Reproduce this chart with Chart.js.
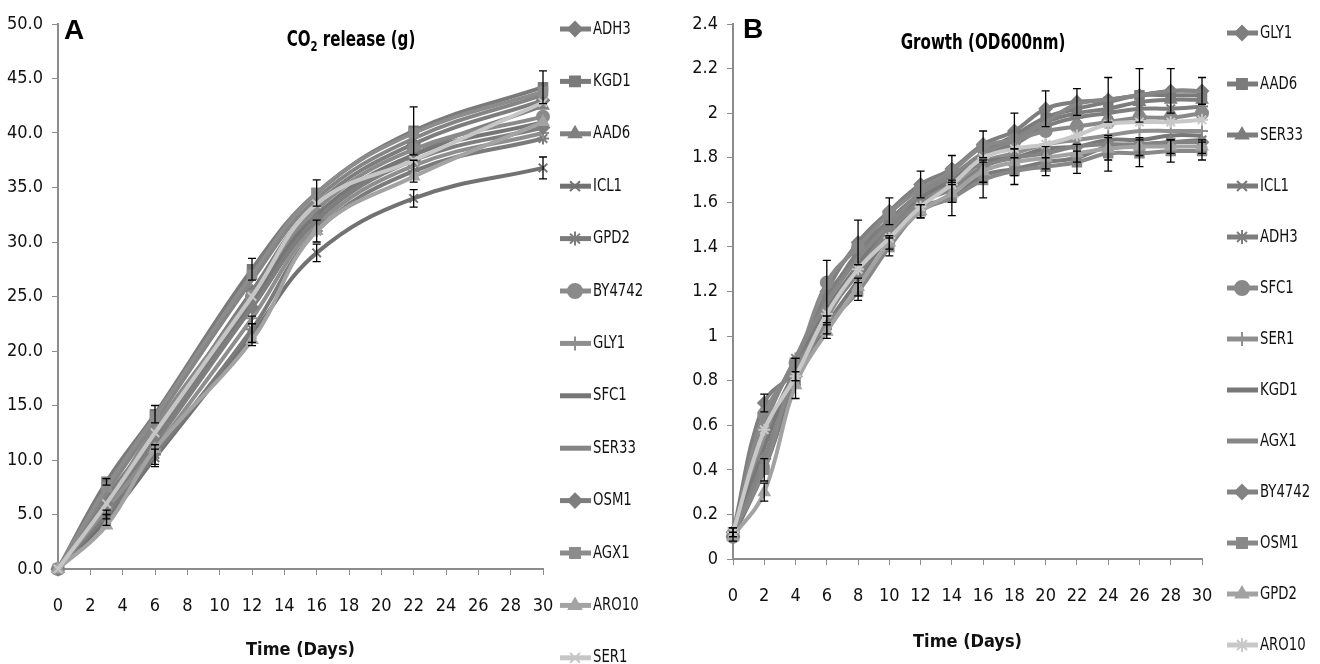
<!DOCTYPE html>
<html>
<head>
<meta charset="utf-8">
<script src="https://cdn.jsdelivr.net/npm/chart.js@4.4.0/dist/chart.umd.min.js"></script>
<style>
  html, body { margin: 0; padding: 0; background: #fff; }
  #wrap { position: relative; width: 1320px; height: 664px; overflow: hidden; }
  .panel { position: absolute; top: 0; width: 660px; height: 664px; }
  #panelA { left: 0; }
  #panelB { left: 660px; }
</style>
</head>
<body>
<div id="wrap">
  <div class="panel" id="panelA"><canvas id="chartA" width="660" height="664"></canvas></div>
  <div class="panel" id="panelB"><canvas id="chartB" width="660" height="664"></canvas></div>
</div>
<script>
const FONT = "'Liberation Sans Narrow', 'DejaVu Sans Condensed', 'Arial Narrow', sans-serif";

// ---- panel A : CO2 release (g) ----
const daysA = [0, 3, 6, 12, 16, 22, 30];
const strainsA = ['ADH3', 'KGD1', 'AAD6', 'ICL1', 'GPD2', 'BY4742', 'GLY1', 'SFC1', 'SER33', 'OSM1', 'AGX1', 'ARO10', 'SER1'];
const co2ADH3   = [0, 6.5, 12.5, 25.5, 33.5, 39.0, 43.0];
const co2KGD1   = [0, 8.0, 14.2, 27.5, 34.5, 40.2, 44.2];
const co2AAD6   = [0, 5.5, 11.5, 24.0, 32.0, 38.0, 42.5];
const co2ICL1   = [0, 4.5, 10.2, 21.5, 29.0, 34.0, 36.8];
const co2GPD2   = [0, 5.0, 10.5, 22.0, 31.0, 36.5, 39.5];
const co2BY4742 = [0, 6.0, 13.0, 25.0, 33.0, 38.5, 41.5];
const co2GLY1   = [0, 5.5, 11.0, 23.0, 31.5, 37.0, 40.0];
const co2SFC1   = [0, 6.0, 12.0, 24.5, 32.5, 38.0, 41.0];
const co2SER33  = [0, 7.0, 13.5, 26.5, 34.0, 39.5, 43.5];
const co2OSM1   = [0, 6.0, 12.0, 24.0, 32.0, 37.5, 40.5];
const co2AGX1   = [0, 7.5, 14.0, 27.0, 34.5, 40.0, 43.8];
const co2ARO10  = [0, 4.0, 11.0, 21.0, 31.0, 36.0, 41.0];
const co2SER1   = [0, 6.0, 12.5, 25.0, 33.5, 37.5, 42.8];
const co2KGD1Err = [0, 0.3, 0.8, 1.0, 1.2, 2.2, 1.5];
const co2ICL1Err = [0, 0.5, 0.8, 1.0, 0.8, 0.8, 1.0];
const co2GPD2Err = [0, 0.4, 0.9, 1.2, 1.0, 1.0, 0];

// ---- panel B : growth (OD600nm) ----
const daysB = [0, 2, 4, 6, 8, 10, 12, 14, 16, 18, 20, 22, 24, 26, 28, 30];
const strainsB = ['GLY1', 'AAD6', 'SER33', 'ICL1', 'ADH3', 'SFC1', 'SER1', 'KGD1', 'AGX1', 'BY4742', 'OSM1', 'GPD2', 'ARO10'];
const odGLY1   = [0.12, 0.70, 0.85, 1.20, 1.42, 1.56, 1.68, 1.75, 1.86, 1.92, 2.02, 2.05, 2.06, 2.08, 2.10, 2.10];
const odAAD6   = [0.10, 0.40, 0.80, 1.10, 1.30, 1.45, 1.60, 1.68, 1.82, 1.90, 1.98, 2.02, 2.05, 2.08, 2.08, 2.08];
const odSER33  = [0.12, 0.55, 0.85, 1.15, 1.38, 1.52, 1.64, 1.72, 1.80, 1.88, 1.96, 2.00, 2.02, 2.05, 2.06, 2.06];
const odICL1   = [0.10, 0.45, 0.80, 1.05, 1.25, 1.45, 1.58, 1.62, 1.72, 1.75, 1.78, 1.80, 1.85, 1.86, 1.87, 1.88];
const odADH3   = [0.12, 0.60, 0.90, 1.18, 1.36, 1.52, 1.62, 1.70, 1.80, 1.86, 1.94, 1.98, 2.00, 2.02, 2.02, 2.03];
const odSFC1   = [0.10, 0.65, 0.88, 1.24, 1.40, 1.55, 1.66, 1.74, 1.85, 1.88, 1.92, 1.94, 1.96, 1.98, 1.98, 2.00];
const odSER1   = [0.12, 0.55, 0.82, 1.08, 1.30, 1.48, 1.60, 1.68, 1.78, 1.82, 1.86, 1.88, 1.90, 1.92, 1.92, 1.92];
const odKGD1   = [0.10, 0.50, 0.85, 1.12, 1.32, 1.50, 1.62, 1.70, 1.78, 1.80, 1.84, 1.85, 1.88, 1.88, 1.90, 1.90];
const odAGX1   = [0.12, 0.60, 0.90, 1.15, 1.35, 1.50, 1.64, 1.72, 1.82, 1.88, 1.96, 2.04, 2.06, 2.08, 2.10, 2.10];
const odBY4742 = [0.10, 0.45, 0.82, 1.10, 1.28, 1.48, 1.60, 1.66, 1.76, 1.80, 1.82, 1.85, 1.86, 1.86, 1.87, 1.87];
const odOSM1   = [0.12, 0.40, 0.85, 1.05, 1.20, 1.40, 1.56, 1.62, 1.70, 1.74, 1.76, 1.78, 1.82, 1.82, 1.83, 1.83];
const odGPD2   = [0.10, 0.30, 0.78, 1.02, 1.22, 1.42, 1.56, 1.64, 1.74, 1.78, 1.80, 1.82, 1.84, 1.85, 1.85, 1.85];
const odARO10  = [0.12, 0.58, 0.82, 1.10, 1.30, 1.44, 1.58, 1.68, 1.80, 1.84, 1.86, 1.90, 1.95, 1.96, 1.96, 1.97];
const odGLY1Err = [0.02, 0.04, 0.05, 0.14, 0.10, 0.06, 0.06, 0.06, 0.06, 0.08, 0.08, 0.06, 0.10, 0.12, 0.10, 0.06];
const odOSM1Err = [0.02, 0.05, 0.05, 0.04, 0.04, 0.04, 0.03, 0.08, 0.08, 0.06, 0.04, 0.05, 0.08, 0.06, 0.05, 0.04];
const odGPD2Err = [0.02, 0.04, 0.06, 0.03, 0.04, 0.03, 0.03, 0.04, 0.05, 0.06, 0.05, 0.04, 0.05, 0.04, 0.03, 0.03];

// marker + grey tone for each series (index matches strains list)
const styleA = [
  ['rectRot', '#7d7d7d'], ['rect', '#7a7a7a'], ['triangle', '#808080'], ['crossRot', '#727272'],
  ['star', '#7b7b7b'], ['circle', '#8a8a8a'], ['cross', '#8e8e8e'], [null, '#767676'],
  [null, '#858585'], ['rectRot', '#7e7e7e'], ['rect', '#8c8c8c'], ['triangle', '#a3a3a3'], ['crossRot', '#c6c6c6']
];
const styleB = [
  ['rectRot', '#7f7f7f'], ['rect', '#7b7b7b'], ['triangle', '#7d7d7d'], ['crossRot', '#7a7a7a'],
  ['star', '#7e7e7e'], ['circle', '#898989'], ['cross', '#8f8f8f'], [null, '#787878'],
  [null, '#868686'], ['rectRot', '#838383'], ['rect', '#888888'], ['triangle', '#a2a2a2'], ['star', '#c8c8c8']
];

function makeSeries(days, values, name, style, idx, errors) {
  return {
    label: name,
    data: days.map((d, i) => ({x: d, y: values[i]})),
    errors: errors || null,
    borderColor: style[1],
    backgroundColor: style[1],
    borderWidth: 4,
    tension: 0.4,
    pointStyle: style[0] || 'circle',
    pointRadius: style[0] ? 6 : 0,
    pointBorderWidth: 2,
    pointBackgroundColor: style[1],
    pointBorderColor: style[1],
    clip: false,
    order: -idx
  };
}

const seriesA = [co2ADH3, co2KGD1, co2AAD6, co2ICL1, co2GPD2, co2BY4742, co2GLY1, co2SFC1, co2SER33, co2OSM1, co2AGX1, co2ARO10, co2SER1];
const errA = {KGD1: co2KGD1Err, ICL1: co2ICL1Err, GPD2: co2GPD2Err};
const seriesB = [odGLY1, odAAD6, odSER33, odICL1, odADH3, odSFC1, odSER1, odKGD1, odAGX1, odBY4742, odOSM1, odGPD2, odARO10];
const errB = {GLY1: odGLY1Err, OSM1: odOSM1Err, GPD2: odGPD2Err};

// narrow text: the source uses a condensed face, squeeze horizontally
function narrowText(ctx, text, x, y, squeeze) {
  ctx.save();
  ctx.translate(x, y);
  ctx.scale(squeeze, 1);
  ctx.fillText(text, 0, 0);
  ctx.restore();
  return ctx.measureText(text).width * squeeze;
}

// black I-shaped error bars, placed with the chart's own scales
const errorBars = {
  id: 'errorBars',
  afterDatasetsDraw(chart) {
    const {ctx, scales: {x, y}} = chart;
    ctx.save();
    ctx.strokeStyle = '#000';
    ctx.lineWidth = 1.3;
    chart.data.datasets.forEach(ds => {
      if (!ds.errors) return;
      ds.data.forEach((p, i) => {
        const e = ds.errors[i];
        if (!e) return;
        const px = x.getPixelForValue(p.x);
        const top = y.getPixelForValue(p.y + e);
        const bot = y.getPixelForValue(p.y - e);
        ctx.beginPath();
        ctx.moveTo(px, top); ctx.lineTo(px, bot);
        ctx.moveTo(px - 4, top); ctx.lineTo(px + 4, top);
        ctx.moveTo(px - 4, bot); ctx.lineTo(px + 4, bot);
        ctx.stroke();
      });
    });
    ctx.restore();
  }
};

// one-column legend at the right, line with marker like the spreadsheet one
const sideLegend = {
  id: 'sideLegend',
  afterDraw(chart, args, opts) {
    const ctx = chart.ctx;
    chart.data.datasets.forEach((ds, i) => {
      const y = opts.top + i * opts.step;
      ctx.save();
      ctx.strokeStyle = ds.borderColor;
      ctx.lineWidth = 5;
      ctx.beginPath();
      ctx.moveTo(opts.x, y);
      ctx.lineTo(opts.x + 31, y);
      ctx.stroke();
      if (ds.pointRadius > 0 && Chart.helpers && Chart.helpers.drawPoint) {
        ctx.fillStyle = ds.backgroundColor;
        ctx.strokeStyle = ds.borderColor;
        ctx.lineWidth = 2;
        Chart.helpers.drawPoint(ctx, {pointStyle: ds.pointStyle, radius: 7, rotation: 0, borderWidth: 2}, opts.x + 15, y);
      }
      ctx.fillStyle = '#111';
      ctx.font = '18px ' + FONT;
      ctx.textBaseline = 'middle';
      ctx.textAlign = 'left';
      narrowText(ctx, ds.label, opts.x + 33, y, 0.82);
      ctx.restore();
    });
  }
};

// panel letter and the title inside the plot
const panelTitle = {
  id: 'panelTitle',
  afterDraw(chart, args, opts) {
    const ctx = chart.ctx;
    ctx.save();
    ctx.fillStyle = '#000';
    ctx.textBaseline = 'alphabetic';
    ctx.textAlign = 'left';
    ctx.font = "bold 28px 'Liberation Sans', Arial, sans-serif";
    ctx.fillText(opts.letter, opts.letterX, opts.letterY);

    const squeeze = 0.8;
    const bigFont = 'bold 21px ' + FONT;
    const subFont = 'bold 14px ' + FONT;
    let w = 0;
    opts.parts.forEach(p => {
      ctx.font = p.sub ? subFont : bigFont;
      w += ctx.measureText(p.t).width * squeeze;
    });
    let x = opts.cx - w / 2;
    opts.parts.forEach(p => {
      ctx.font = p.sub ? subFont : bigFont;
      x += narrowText(ctx, p.t, x, opts.baseY + (p.sub ? 5 : 0), squeeze);
    });
    ctx.restore();
  }
};

function buildChart(canvasId, days, names, series, styles, errs, cfg) {
  const datasets = names.map((n, i) => makeSeries(days, series[i], n, styles[i], i, errs[n]));
  return new Chart(document.getElementById(canvasId), {
    type: 'line',
    data: {datasets},
    plugins: [errorBars, sideLegend, panelTitle],
    options: {
      responsive: false,
      animation: false,
      layout: {padding: {top: 24, right: cfg.rightPad, left: 0, bottom: 0}},
      plugins: {
        legend: {display: false},
        tooltip: {enabled: false},
        sideLegend: cfg.legend,
        panelTitle: cfg.title
      },
      scales: {
        x: {
          type: 'linear',
          min: 0, max: 30,
          afterFit(s) { s.height = cfg.xHeight; },
          grid: {drawOnChartArea: false, drawTicks: true, tickLength: 6, color: '#8c8c8c', lineWidth: 1},
          border: {display: true, color: '#8c8c8c', width: 2},
          ticks: {stepSize: 2, padding: 21, color: '#111', font: {family: FONT, size: 18}, maxRotation: 0},
          title: {display: true, text: 'Time (Days)', color: '#111', font: {family: FONT, size: 18, weight: 'bold'}, padding: {top: 0, bottom: cfg.titlePad}}
        },
        y: {
          type: 'linear',
          min: 0, max: cfg.yMax,
          afterFit(s) { s.width = cfg.yWidth; },
          grid: {drawOnChartArea: false, drawTicks: true, tickLength: 6, color: '#8c8c8c', lineWidth: 1},
          border: {display: true, color: '#8c8c8c', width: 2},
          ticks: {stepSize: cfg.yStep, padding: 9, color: '#111', font: {family: FONT, size: 18}, callback: cfg.yFmt}
        }
      }
    }
  });
}

buildChart('chartA', daysA, strainsA, seriesA, styleA, errA, {
  rightPad: 117, xHeight: 95, yWidth: 58, yMax: 50, yStep: 5, titlePad: 3,
  yFmt: v => v.toFixed(1),
  legend: {x: 560, top: 29, step: 52.4},
  title: {letter: 'A', letterX: 64, letterY: 39, cx: 351, baseY: 46,
          parts: [{t: 'CO'}, {t: '2', sub: true}, {t: ' release (g)'}]}
});

buildChart('chartB', daysB, strainsB, seriesB, styleB, errB, {
  rightPad: 118, xHeight: 105, yWidth: 73, yMax: 2.4, yStep: 0.2, titlePad: 11,
  yFmt: v => String(Math.round(v * 10) / 10),
  legend: {x: 567, top: 33, step: 51},
  title: {letter: 'B', letterX: 83, letterY: 38, cx: 323, baseY: 49,
          parts: [{t: 'Growth (OD600nm)'}]}
});
</script>
</body>
</html>
